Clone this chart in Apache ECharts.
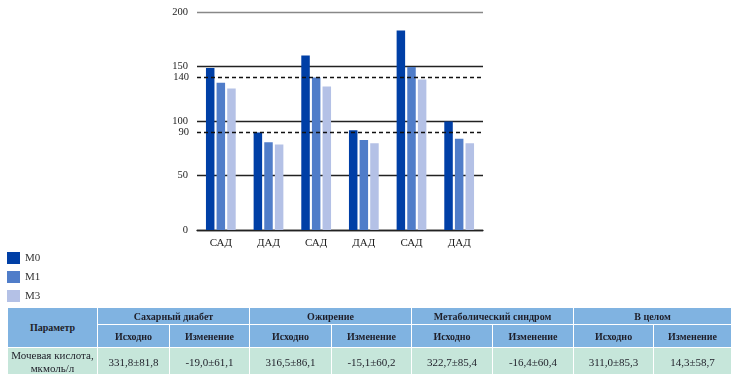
<!DOCTYPE html>
<html>
<head>
<meta charset="utf-8">
<script src="https://cdn.jsdelivr.net/npm/echarts@6/dist/echarts.min.js"></script>
<style>
html,body{margin:0;padding:0;background:#fff;}
#chart{position:absolute;left:0;top:0;width:739px;height:374px;}
#tbl{position:absolute;left:7px;top:307px;width:724px;border-collapse:collapse;table-layout:fixed;
  font-family:"Liberation Serif","DejaVu Serif",serif;color:#1e1e28;z-index:2;}
#tbl td,#tbl th{border:1px solid #fff;padding:0;text-align:center;overflow:hidden;white-space:nowrap;}
#tbl th{background:#80b3e1;font-weight:bold;font-size:10px;}
#tbl td{background:#c6e6da;font-size:11px;line-height:13px;}
</style>
</head>
<body>
<div id="chart"></div>
<table id="tbl"></table>
<script>
// ---- Chart data ----
var categories = ['САД', 'ДАД', 'САД', 'ДАД', 'САД', 'ДАД'];
var seriesNames = ['M0', 'M1', 'M3'];
var m0 = [148.7, 89.5, 160.0, 91.6, 183.0, 99.6];
var m1 = [135.0, 80.6, 139.9, 82.5, 149.6, 83.7];
var m3 = [129.8, 78.5, 131.6, 79.7, 138.0, 79.7];
var referenceLines = [140, 90];

// ---- Table data ----
var tableGroups = ['Сахарный диабет', 'Ожирение', 'Метаболический синдром', 'В целом'];
var tableSubHeaders = ['Исходно', 'Изменение'];
var tableParamHeader = 'Параметр';
var tableRowLabel = ['Мочевая кислота,', 'мкмоль/л'];
var tableRowValues = ['331,8±81,8', '-19,0±61,1', '316,5±86,1', '-15,1±60,2', '322,7±85,4', '-16,4±60,4', '311,0±85,3', '14,3±58,7'];

var colors = ['#003fa6', '#507dc9', '#b4c1e6'];
var font = '"Liberation Serif","DejaVu Serif",serif';

var chart = echarts.init(document.getElementById('chart'), null, {renderer: 'canvas'});
var dataSets = [m0, m1, m3];
var series = seriesNames.map(function (n, i) {
  var s = {
    name: n, type: 'bar', data: dataSets[i], barWidth: 8.5, barGap: '25%',
    itemStyle: {color: colors[i]}
  };
  if (i === 0) {
    s.markLine = {
      silent: true, symbol: 'none',
      lineStyle: {color: '#111', type: [4, 3], width: 1.3},
      label: {position: 'start', formatter: '{c}', color: '#222', fontFamily: font, fontSize: 10.5, distance: 8},
      data: referenceLines.map(function (v) { return {yAxis: v}; })
    };
  }
  return s;
});

chart.setOption({
  animation: false,
  color: colors,
  textStyle: {fontFamily: font},
  legend: {
    orient: 'vertical', left: 7, top: 252, padding: 0, icon: 'rect', itemWidth: 13, itemHeight: 12, itemGap: 7,
    textStyle: {fontFamily: font, fontSize: 11, color: '#333'},
    data: seriesNames
  },
  grid: {left: 197, right: 256, top: 12, bottom: 144, containLabel: false},
  xAxis: {
    type: 'category', data: categories,
    axisLine: {lineStyle: {color: '#222', width: 1.3}},
    axisTick: {show: false},
    axisLabel: {color: '#222', fontFamily: font, fontSize: 11, margin: 8}
  },
  yAxis: {
    type: 'value', min: 0, max: 200, interval: 50,
    axisLine: {show: false}, axisTick: {show: false},
    axisLabel: {color: '#222', fontFamily: font, fontSize: 10.5, margin: 9},
    splitLine: {lineStyle: {color: ['#222', '#222', '#222', '#222', '#888'], width: 1.3}}
  },
  series: series
});

// ---- Build table ----
var tbl = document.getElementById('tbl');
var colWidths = [90, 72, 80, 82, 80, 81, 81, 80, 78];
var cg = '<colgroup>' + colWidths.map(function (w) { return '<col style="width:' + w + 'px">'; }).join('') + '</colgroup>';
var r1 = '<tr style="height:17px"><th rowspan="2">' + tableParamHeader + '</th>' +
  tableGroups.map(function (g) { return '<th colspan="2">' + g + '</th>'; }).join('') + '</tr>';
var r2 = '<tr style="height:23px">' + tableGroups.map(function () {
  return tableSubHeaders.map(function (s) { return '<th>' + s + '</th>'; }).join('');
}).join('') + '</tr>';
var r3 = '<tr style="height:29px"><td>' + tableRowLabel.join('<br>') + '</td>' +
  tableRowValues.map(function (v) { return '<td>' + v + '</td>'; }).join('') + '</tr>';
tbl.innerHTML = cg + r1 + r2 + r3;
</script>
</body>
</html>
